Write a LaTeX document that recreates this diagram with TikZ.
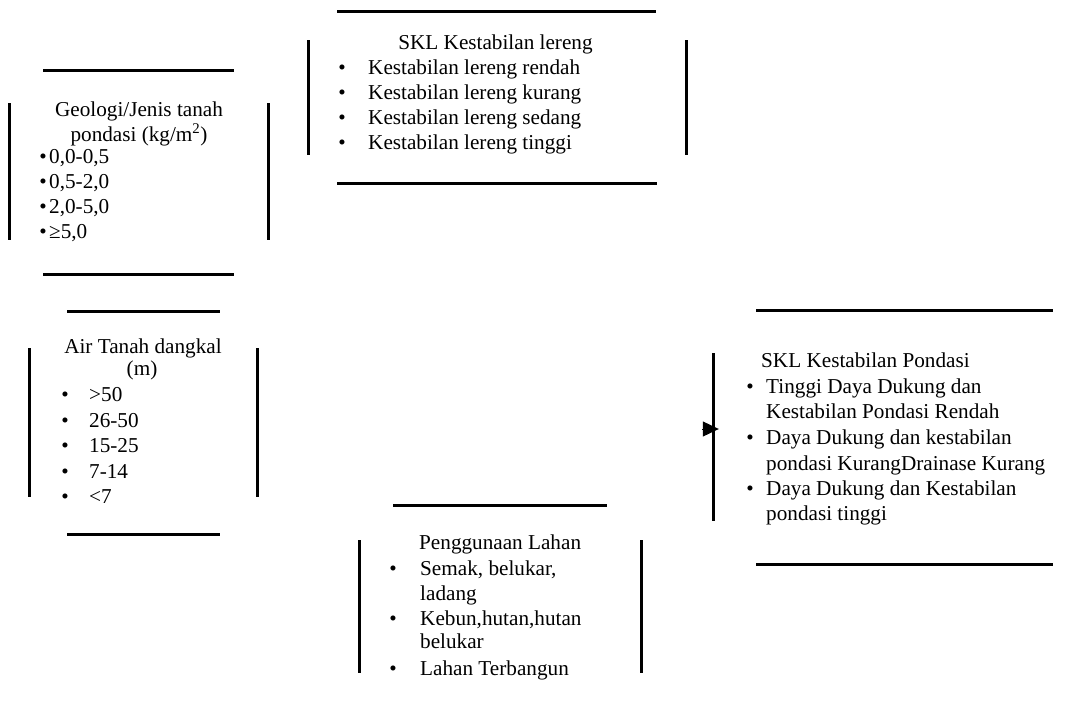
\documentclass[tikz,border=0pt]{standalone}
\usepackage{fontspec}
\setmainfont{Liberation Serif}
\usetikzlibrary{arrows.meta}
\begin{document}
\begin{tikzpicture}[x=1pt,y=-1pt,
  rule/.style={line width=3pt},
  txt/.style={inner sep=0pt, font=\fontsize{21.2}{25}\selectfont, anchor=base west},
  ttl/.style={txt, anchor=base},
  bul/.style={txt, anchor=base},
  frame/.style={draw=none, rectangle, inner sep=0pt},
  feed/.style={line width=1pt, -{Triangle[length=16pt,width=15pt]}, shorten >=-6pt}]
\useasboundingbox (0,0) rectangle (1089,704);

% ---- Geologi / jenis tanah
\draw[rule] (43,70) -- (234,70);
\draw[rule] (43,274) -- (234,274);
\draw[rule] (9,103) -- (9,240);
\draw[rule] (268,103) -- (268,240);
\node[ttl] (geoA) at (139,116) {Geologi/Jenis tanah};
\node[ttl] (geoB) at (139,141) {pondasi (kg/m\textsuperscript{2})};
\foreach \y/\t [count=\i] in {163/{0,0-0,5},188/{0,5-2,0},213/{2,0-5,0},238/{≥5,0}}{
  \node[bul] (geoDot\i) at (43,\y) {•};
  \node[txt] (geoItem\i) at (49,\y) {\t};
}

% ---- SKL kestabilan lereng
\draw[rule] (337,11) -- (656,11);
\draw[rule] (337,183) -- (657,183);
\draw[rule] (308,40) -- (308,155);
\draw[rule] (686,40) -- (686,155);
\node[ttl] (lerA) at (495.5,49) {SKL Kestabilan lereng};
\foreach \y/\t [count=\i] in {74/{Kestabilan lereng rendah},99/{Kestabilan lereng kurang},124/{Kestabilan lereng sedang},149/{Kestabilan lereng tinggi}}{
  \node[bul] (lerDot\i) at (342,\y) {•};
  \node[txt] (lerItem\i) at (368,\y) {\t};
}

% ---- Air tanah dangkal
\draw[rule] (67,311) -- (220,311);
\draw[rule] (67,534) -- (220,534);
\draw[rule] (29,348) -- (29,497);
\draw[rule] (257,348) -- (257,497);
\node[ttl] (airA) at (143,353) {Air Tanah dangkal};
\node[ttl] (airB) at (142,375) {(m)};
\foreach \y/\t [count=\i] in {401/{>50},427/{26-50},452/{15-25},478/{7-14},503/{<7}}{
  \node[bul] (airDot\i) at (65,\y) {•};
  \node[txt] (airItem\i) at (89,\y) {\t};
}

% ---- SKL kestabilan pondasi (no right rule)
\node[frame, minimum width=340pt, minimum height=255pt] (pondasiFrame) at (883,436.5) {};
\draw[rule] (756,310) -- (1053,310);
\draw[rule] (756,564) -- (1053,564);
\draw[rule] (713,353) -- (713,521);
\node[txt] (ponA) at (761,367) {SKL Kestabilan Pondasi};
\foreach \y [count=\i] in {393,444,495}{
  \node[bul] (ponDot\i) at (750,\y) {•};
}
\foreach \y/\t [count=\i] in {393/{Tinggi Daya Dukung dan},418/{Kestabilan Pondasi Rendah},444/{Daya Dukung dan kestabilan},470/{pondasi KurangDrainase Kurang},495/{Daya Dukung dan Kestabilan},520/{pondasi tinggi}}{
  \node[txt] (ponItem\i) at (766,\y) {\t};
}

% ---- Penggunaan lahan (no bottom rule)
\draw[rule] (393,505) -- (607,505);
\draw[rule] (359,540) -- (359,673);
\draw[rule] (641,540) -- (641,673);
\node[txt] (lahA) at (419,549) {Penggunaan Lahan};
\foreach \y [count=\i] in {575,625,675}{
  \node[bul] (lahDot\i) at (393,\y) {•};
}
\foreach \y/\t [count=\i] in {575/{Semak, belukar,},600/{ladang},625/{Kebun,hutan,hutan},648/{belukar},675/{Lahan Terbangun}}{
  \node[txt] (lahItem\i) at (420,\y) {\t};
}

% ---- incoming arrow into the pondasi box
\coordinate (arrTail) at (702,429);
\draw[feed] (arrTail) -- (pondasiFrame.west |- arrTail);
\end{tikzpicture}
\end{document}
